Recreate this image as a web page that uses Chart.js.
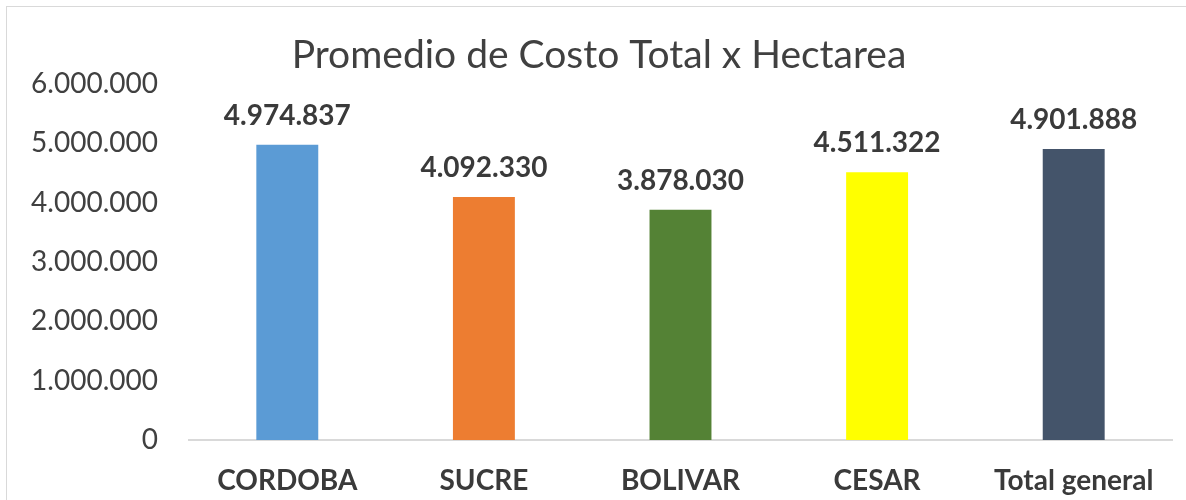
<!DOCTYPE html>
<html>
<head>
<meta charset="utf-8">
<script src="https://cdn.jsdelivr.net/npm/chart.js@4"></script>
<style>
  body { margin: 0; background: #fff; overflow: hidden; }
  #frame { position: absolute; left: 6px; top: 6px; width: 1300px; height: 600px; border: 1px solid #d9d9d9; }
  #wrap { position: absolute; left: 8px; top: 8px; width: 1178px; height: 492px; }
</style>
</head>
<body>
<div id="frame"></div>
<div id="wrap"><canvas id="chart"></canvas></div>
<script>
var categories = ['CORDOBA', 'SUCRE', 'BOLIVAR', 'CESAR', 'Total general'];
var costValues = [4974837, 4092330, 3878030, 4511322, 4901888];
var barColors = ['#5b9bd5', '#ed7d31', '#548235', '#ffff00', '#44546a'];
var yMax = 6000000;
var yStep = 1000000;

function fmt(n) {
    return String(Math.round(n)).replace(/\B(?=(\d{3})+(?!\d))/g, '.');
}

// etiquetas encima de cada barra
var valueLabels = {
    id: 'valueLabels',
    afterDatasetsDraw: function (chart) {
        var ctx = chart.ctx;
        var meta = chart.getDatasetMeta(0);
        ctx.save();
        ctx.font = 'bold 28px Lato';
        ctx.fillStyle = '#3a3a3a';
        ctx.textAlign = 'center';
        ctx.textBaseline = 'middle';
        meta.data.forEach(function (bar, i) {
            ctx.fillText(fmt(costValues[i]), bar.x, bar.y - 29);
        });
        ctx.restore();
    }
};

var ctx = document.getElementById('chart').getContext('2d');
var chart = new Chart(ctx, {
    type: 'bar',
    data: {
        labels: categories,
        datasets: [{
            data: costValues,
            backgroundColor: barColors,
            borderWidth: 0,
            categoryPercentage: 1,
            barPercentage: 0.315
        }]
    },
    options: {
        responsive: true,
        maintainAspectRatio: false,
        animation: false,
        layout: { padding: { left: 18, right: 14, top: 0, bottom: 5 } },
        plugins: {
            legend: { display: false },
            tooltip: { enabled: false },
            title: {
                display: true,
                text: 'Promedio de Costo Total x Hectarea',
                color: '#404040',
                font: { family: 'Lato', size: 39, weight: 'normal' },
                padding: { top: 24, bottom: 5 }
            }
        },
        scales: {
            x: {
                grid: { display: false, drawTicks: false },
                border: { display: true, color: '#d9d9d9', width: 2 },
                ticks: {
                    color: '#3a3a3a',
                    padding: 27,
                    font: { family: 'Lato', size: 28, weight: 'bold', lineHeight: 1 }
                },
                afterFit: function (scale) { scale.height = 55; }
            },
            y: {
                min: 0,
                max: yMax,
                grid: { display: false, drawTicks: false },
                border: { display: false },
                ticks: {
                    stepSize: yStep,
                    color: '#404040',
                    padding: 31,
                    font: { family: 'Lato', size: 28, lineHeight: 1 },
                    callback: function (v) { return fmt(v); }
                },
                afterFit: function (scale) { scale.width = 163; }
            }
        }
    },
    plugins: [valueLabels]
});
</script>
</body>
</html>
